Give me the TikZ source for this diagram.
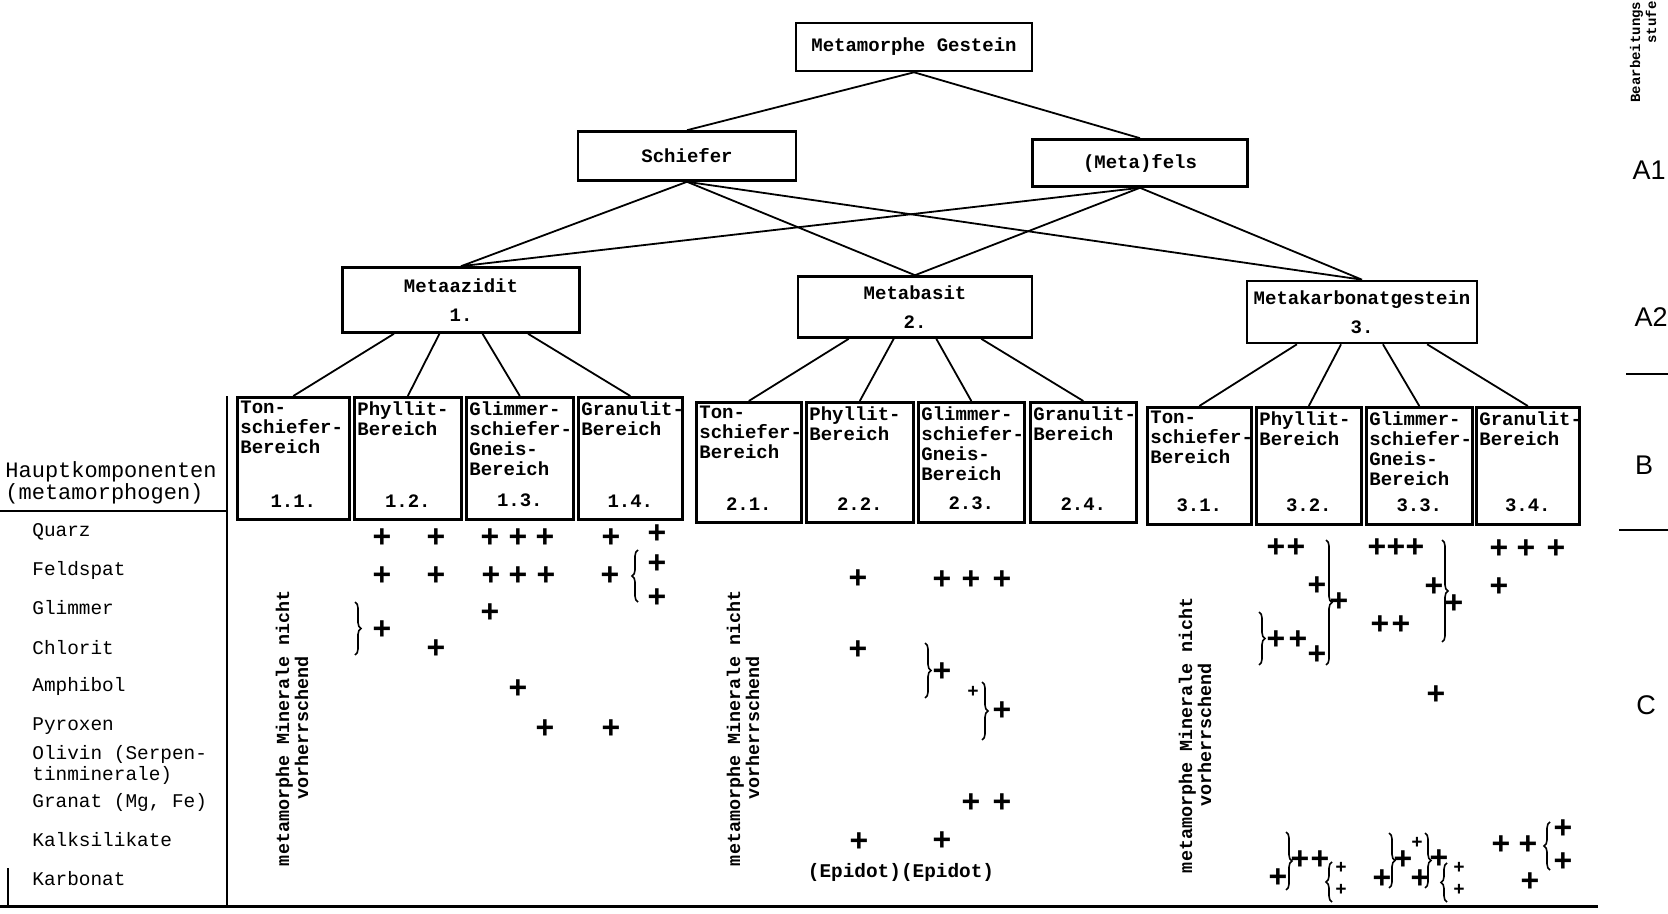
\documentclass[tikz,border=0pt]{standalone}
\usepackage{fontspec}
\setmonofont{Liberation Mono}
\setsansfont{Liberation Sans}
\usetikzlibrary{positioning, calc, decorations.pathreplacing}
\tikzset{
gbox/.style={draw, line width=1.3pt, inner sep=1pt, align=center, font=\ttfamily\bfseries\fontsize{9.5}{14.5}\selectfont}, % boxes of the tree
sbox/.style={draw, line width=1.3pt, anchor=north west, inner sep=0pt}, % boxes of the Bereiche
stext/.style={anchor=north west, inner sep=0pt, align=left, font=\ttfamily\bfseries\fontsize{9.5}{10}\selectfont},
snum/.style={anchor=south, inner sep=0pt, font=\ttfamily\bfseries\fontsize{9.5}{10}\selectfont},
link/.style={line width=0.9pt},
pl/.style={inner sep=0pt, font=\ttfamily\bfseries\fontsize{16}{16}\selectfont}, % the crosses
spl/.style={inner sep=0pt, font=\ttfamily\bfseries\fontsize{9.5}{9.5}\selectfont},
brc/.style={line width=0.8pt, decorate, decoration={brace, amplitude=3pt}},
row/.style={anchor=west, inner sep=0pt, align=left, font=\ttfamily\fontsize{9.7}{8}\selectfont},
vtext/.style={rotate=90, align=center, inner sep=0pt, font=\ttfamily\bfseries\fontsize{9.2}{9.5}\selectfont},
stufe/.style={inner sep=0pt, font=\sffamily\fontsize{13.5}{14}\selectfont},
}

\begin{document}
\begin{tikzpicture}[x=0.5pt, y=-0.5pt]
        \useasboundingbox (0,0) rectangle (1668,914);
        % tree
        \node[gbox, minimum width=118pt, minimum height=24pt] (gestein) at (914,47) {Metamorphe Gestein};
        \node[gbox, minimum width=109pt, minimum height=24.5pt] (schiefer) at (687,156) {Schiefer};
        \node[gbox, minimum width=107.5pt, minimum height=23.5pt] (fels) at (1140,163) {(Meta)fels};
        \node[gbox, minimum width=118.5pt, minimum height=32.5pt] (azidit) at (461,300) {Metaazidit\\1.};
        \node[gbox, minimum width=117pt, minimum height=30.5pt] (basit) at (915,307) {Metabasit\\2.};
        \node[gbox, minimum width=115pt, minimum height=31pt] (karbonat) at (1362,312) {Metakarbonatgestein\\3.};
        \draw[link] (gestein.south) -- (schiefer.north) (gestein.south) -- (fels.north);
        \foreach \a in {azidit, basit, karbonat}
            \draw[link] (schiefer.south) -- (\a.north) (fels.south) -- (\a.north);
        % Bereiche
        \foreach \n/\x/\y/\w/\h/\t/\m in {
            b11/236/396/56/61/{Ton-\\schiefer-\\Bereich}/1.1.,
            b12/353/396/53.5/61/{Phyllit-\\Bereich}/1.2.,
            b13/465/396/53.5/61/{Glimmer-\\schiefer-\\Gneis-\\Bereich}/1.3.,
            b14/577/396/52/61/{Granulit-\\Bereich}/1.4.,
            b21/695/401/52.5/60/{Ton-\\schiefer-\\Bereich}/2.1.,
            b22/805/401/53.5/60/{Phyllit-\\Bereich}/2.2.,
            b23/917/401/53/60/{Glimmer-\\schiefer-\\Gneis-\\Bereich}/2.3.,
            b24/1029/401/53/60/{Granulit-\\Bereich}/2.4.,
            b31/1146/406/52/58.5/{Ton-\\schiefer-\\Bereich}/3.1.,
            b32/1255/406/52.5/58.5/{Phyllit-\\Bereich}/3.2.,
            b33/1365/406/53/58.5/{Glimmer-\\schiefer-\\Gneis-\\Bereich}/3.3.,
            b34/1475/406/51.5/58.5/{Granulit-\\Bereich}/3.4.}
        {
            \node[sbox, minimum width=\w pt, minimum height=\h pt] (\n) at (\x,\y) {};
            \node[stext] (\n-t) at ([xshift=2pt, yshift=-2.5pt]\n.north west) {\t};
            \node[snum] (\n-n) at ([yshift=6.5pt]\n.south) {\m};
        }
        \foreach \g/\s in {azidit/1, basit/2, karbonat/3}
            \foreach \f/\k in {0.22/1, 0.41/2, 0.59/3, 0.78/4}
                \draw[link] ($(\g.south west)!\f!(\g.south east)$) -- (b\s\k.north);
        % table
        \draw[line width=1pt] (227,396) -- (227,908);
        \draw[line width=1pt] (0,511) -- (227,511);
        \draw[line width=1.5pt] (0,906) -- (1598,906);
        \draw[line width=0.8pt] (8,868) -- (8,906);
        \node[anchor=west, align=left, inner sep=0pt, font=\ttfamily\fontsize{11}{9.5}\selectfont] (kopf) at (5,483) {Hauptkomponenten\\(metamorphogen)};
        \foreach \n/\y/\t in {quarz/532/Quarz, feldspat/570/Feldspat, glimmer/608/Glimmer, chlorit/648/Chlorit,
            amphibol/686/Amphibol, pyroxen/726/Pyroxen, olivin/765/{Olivin (Serpen-\\tinminerale)},
            granat/802/{Granat (Mg, Fe)}, kalk/840/Kalksilikate, karbonat-r/879/Karbonat}
            \node[row] (\n) at (32,\y) {\t};
        \node[vtext] (nicht1) at (292,728) {metamorphe Minerale nicht\\vorherrschend};
        \node[vtext] (nicht2) at (743,728) {metamorphe Minerale nicht\\vorherrschend};
        \node[vtext] (nicht3) at (1195,735) {metamorphe Minerale nicht\\vorherrschend};
        \node[inner sep=0pt, font=\ttfamily\bfseries\fontsize{9.7}{10}\selectfont] (epidot) at (901,872) {(Epidot)(Epidot)};
        % crosses
        \foreach \x/\y in {382/538, 436/538, 490/538, 518/538, 545/538, 611/538, 657/534,
            382/576, 436/576, 491/576, 518/576, 546/576, 610/576, 657/564, 657/598,
            490/613, 382/630, 436/649, 518/689, 545/729, 611/729,
            858/579, 942/580, 971/580, 1002/580, 858/650, 942/672, 1002/711,
            971/803, 1002/803, 859/842, 942/841,
            1276/548, 1296/548, 1377/548, 1396/548, 1415/548, 1499/549, 1526/549, 1556/549,
            1339/602, 1317/586, 1276/640, 1298/640, 1317/655, 1380/625, 1401/625,
            1434/587, 1454/604, 1499/587, 1436/695,
            1278/878, 1300/860, 1320/860, 1382/879, 1403/860, 1420/879, 1439/859,
            1501/845, 1528/845, 1530/882, 1563/829, 1563/862}
            \node[pl] (p\x-\y) at (\x,\y) {+};
        \foreach \x/\y in {973/692, 1417/843, 1341/868, 1341/890, 1459/868, 1459/890}
            \node[spl] (q\x-\y) at (\x,\y) {+};
        % braces
        \foreach \x/\a/\b in {355/602/655, 925/643/698, 982/682/740, 1326/540/665, 1259/612/665,
            1442/540/642, 1286/832/890, 1389/833/888, 1425/833/888}
            \draw[brc] (\x,\a) -- (\x,\b);
        \foreach \x/\a/\b in {638/550/602, 1332/862/902, 1447/863/902, 1550/822/870}
            \draw[brc] (\x,\b) -- (\x,\a);
        % stages
        \node[rotate=90, align=right, inner sep=0pt, font=\ttfamily\bfseries\fontsize{7}{8}\selectfont] (stufe) at (1643,52) {Bearbeitungs\\stufe};
        \node[stufe] (a1) at (1649,170) {A1};
        \node[stufe] (a2) at (1651,317) {A2};
        \node[stufe] (b) at (1644,465) {B};
        \node[stufe] (c) at (1646,705) {C};
        \draw[line width=1.2pt] (1626,374) -- (1668,374);
        \draw[line width=1.2pt] (1619,530) -- (1668,530);
    \end{tikzpicture}
\end{document}
